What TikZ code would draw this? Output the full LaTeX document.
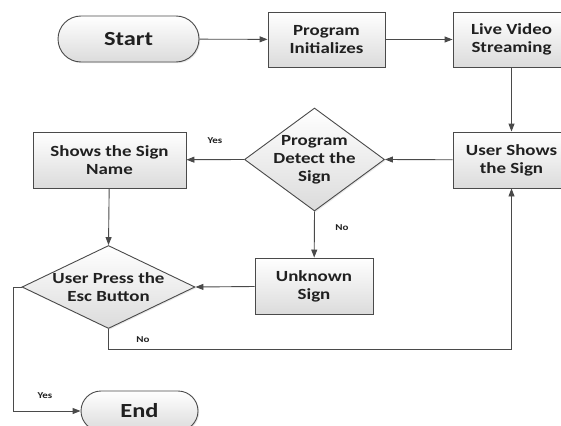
\documentclass[tikz,border=0pt]{standalone}
\usepackage{fontspec}
\setmainfont{Carlito}[FakeStretch=1.22]
\usetikzlibrary{shapes.geometric,shapes.misc,arrows.meta,shadows}
\definecolor{lineC}{HTML}{4A4A4A}
\definecolor{textC}{HTML}{202020}
\tikzset{
  fillstyle/.style={draw=lineC, line width=0.9pt, top color=white, bottom color=black!14,
    drop shadow={opacity=0.18, shadow xshift=1.2pt, shadow yshift=-1.2pt}},
  txt/.style={text=textC, font=\fontsize{15.5}{18}\selectfont\bfseries, align=center, inner sep=0pt},
  base/.style={fillstyle, txt},
  procbox/.style={base, rectangle, minimum width=117pt, minimum height=56pt},
  termbox/.style={base, rounded rectangle, minimum width=117pt, minimum height=40pt, font=\fontsize{20}{24}\selectfont\bfseries},
  decbox/.style={fillstyle, diamond, inner sep=0pt},
  conn/.style={draw=lineC, line width=0.9pt, -{Triangle[length=8pt,width=6pt]}},
  lbl/.style={text=textC, font=\fontsize{9}{10}\selectfont\bfseries, inner sep=0pt}
}
\begin{document}
\begin{tikzpicture}[x=1pt,y=-1pt]
\useasboundingbox (0,0) rectangle (561,425);
\fill[white] (0,0) rectangle (561,425);
\node[termbox, minimum width=141pt, minimum height=46pt] (start) at (128.5,39) {Start};
\node[procbox, minimum height=55pt] (prog) at (326.5,39.5) {Program\\Initializes};
\node[procbox, minimum height=55pt] (live) at (511.5,39.5) {Live Video\\Streaming};
\node[procbox] (user) at (511.5,160) {User Shows\\the Sign};
\node[decbox, minimum width=140pt, minimum height=103pt] (detect) at (314.5,159.5) {};
\node[txt] (detectT) at (detect.center) {Program\\Detect the\\Sign};
\node[procbox, minimum width=153pt] (shows) at (109.5,160) {Shows the Sign\\Name};
\node[decbox, minimum width=173pt, minimum height=83pt] (press) at (108.5,287) {};
\node[txt] (pressT) at (press.center) {User Press the\\Esc Button};
\node[procbox, minimum width=118pt] (unknown) at (314,286) {Unknown\\Sign};
\node[termbox] (end) at (139.5,411) {End};
\coordinate (nocorner) at (108.5,349);
\coordinate (yescorner) at (13,287);

\draw[conn] (start) -- (prog);
\draw[conn] (prog) -- (live);
\draw[conn] (live) -- (user);
\draw[conn] (user) -- (detect.east);
\draw[conn] (detect.west) -- (shows);
\draw[conn] (shows) -- (press.north);
\draw[conn] (detect.south) -- (unknown);
\draw[conn] (unknown) -- (press.east);
\draw[conn] (press.south) -- (nocorner) -| (user.south);
\draw[conn] (press.west) -- (yescorner) |- (end.west);

\node[lbl] (yes1) at (215,141) {Yes};
\node[lbl] (no1) at (342,228) {No};
\node[lbl] (no2) at (143,340) {No};
\node[lbl] (yes2) at (45,396) {Yes};
\end{tikzpicture}
\end{document}
